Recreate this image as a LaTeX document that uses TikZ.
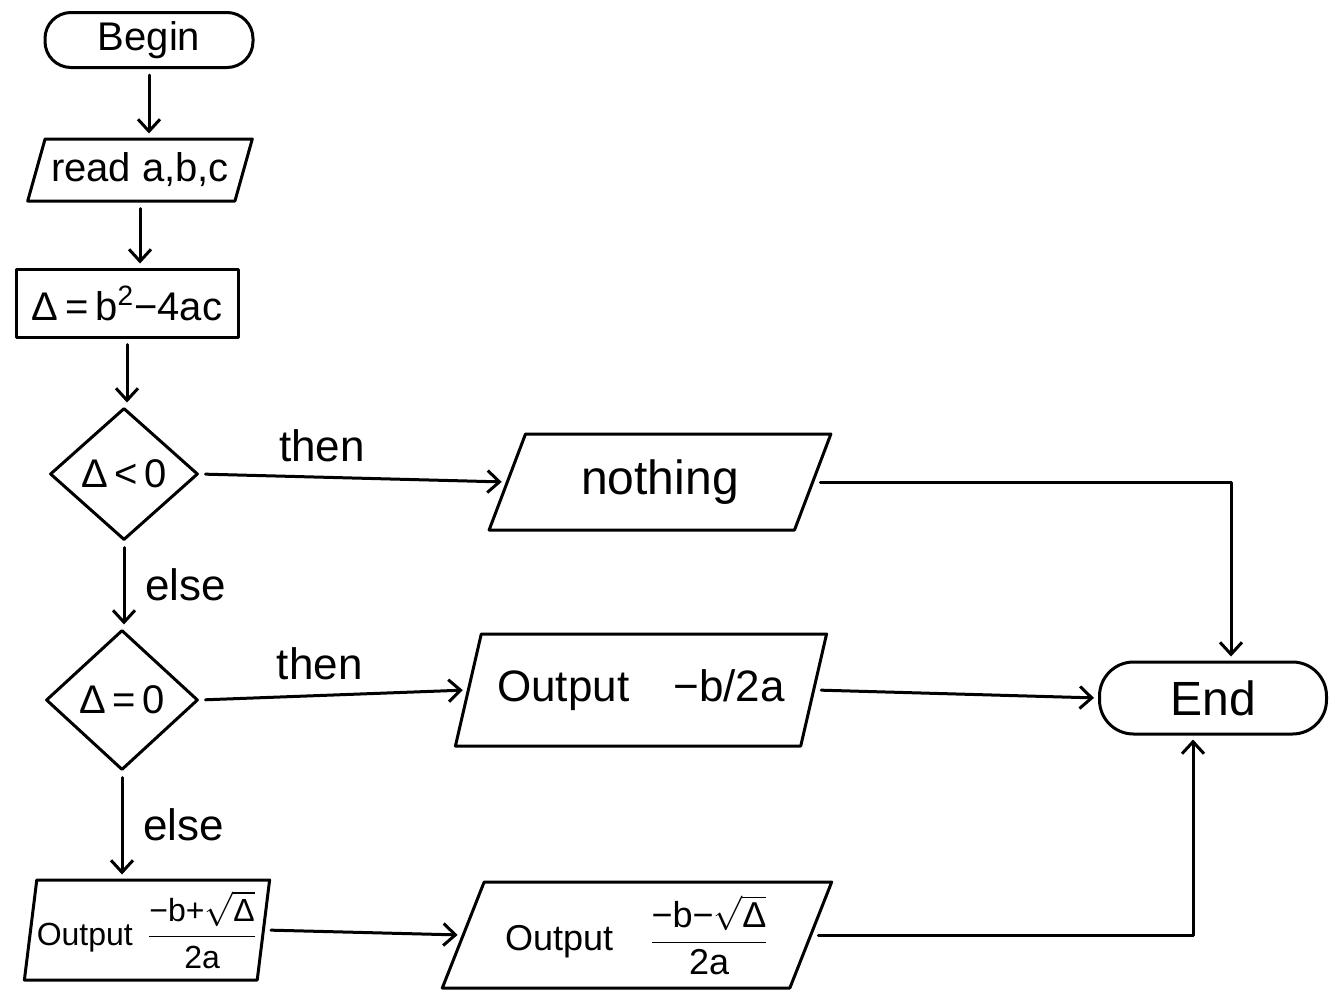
\documentclass[tikz,border=0pt]{standalone}
\usepackage{fontspec}
\setmainfont{Liberation Sans}
\usetikzlibrary{shapes.geometric,arrows.meta}
\begin{document}
\begin{tikzpicture}[x=0.5pt,y=-0.5pt,
  line width=1.5pt, line join=round, line cap=round,
  every node/.style={font=\fontsize{20}{24}\selectfont, inner sep=2pt},
  terminal/.style={draw, rectangle, rounded corners=#1, align=center},
  iobox/.style={draw, trapezium, trapezium stretches=true,
    trapezium left angle=#1, trapezium right angle={180-#1}},
  procbox/.style={draw, rectangle},
  decision/.style={draw, diamond},
  flow/.style={-{Straight Barb[length=6pt,width=11pt,line width=1.5pt]},
    shorten <=3pt, shorten >=2pt},
  lbl/.style={font=\fontsize{22}{26}\selectfont}]

\useasboundingbox (0,0) rectangle (1333,1002);

% shapes
\node[terminal=13pt, minimum width=104pt, minimum height=27.5pt] (begin) at (149,40) {Begin};
\node[iobox=68, minimum width=112.5pt, minimum height=31pt] (read) at (140,170) {read a,b,c};
\node[procbox, minimum width=111pt, minimum height=34pt] (disc) at (127,303) {Δ\,=\,b\textsuperscript{2}−4ac};
\node[decision, minimum width=74pt, minimum height=66pt, inner sep=0pt] (neg) at (124,474) {Δ\,<\,0};
\node[iobox=67, minimum width=171pt, minimum height=48pt, font=\fontsize{24}{28}\selectfont] (none) at (660,482) {nothing};
\node[decision, minimum width=76pt, minimum height=70pt, inner sep=0pt] (zero) at (122,700) {Δ\,=\,0};
\node[iobox=64, minimum width=186pt, minimum height=56pt, font=\fontsize{22}{26}\selectfont] (single) at (641,690) {Output\quad −b/2a};
\node[terminal=17pt, minimum width=113.5pt, minimum height=36pt, font=\fontsize{24}{28}\selectfont] (end) at (1213,698) {End};
\node[iobox=81, minimum width=122pt, minimum height=50pt, inner sep=0pt, font=\fontsize{16}{19}\selectfont] (plus) at (147,930)
  {Output\, $\displaystyle\frac{\textrm{−b+}\sqrt{\textrm{Δ}}}{\textrm{2a}}$};
\node[iobox=67, minimum width=195pt, minimum height=53pt, font=\fontsize{18}{22}\selectfont] (minus) at (637,935)
  {Output\quad $\displaystyle\frac{\textrm{−b−}\sqrt{\textrm{Δ}}}{\textrm{2a}}$};

% connectors
\draw[flow] (begin.south) -- (begin.south |- read.north);
\draw[flow] (read.south) -- (read.south |- disc.north);
\draw[flow] (disc.south) -- (disc.south |- neg.north);
\draw[flow] (neg.east) -- (none.west) node[lbl, pos=0.4, above=5pt] {then};
\draw[flow] (none.east) -| ([xshift=9pt]end.north);
\draw[flow] (neg.south) -- (neg.south |- zero.north) node[lbl, midway, right=8pt] {else};
\draw[flow] (zero.east) -- (single.west) node[lbl, pos=0.45, above=5pt] {then};
\draw[flow] (single.east) -- (end.west);
\draw[flow] (zero.south) -- (zero.south |- plus.north) node[lbl, midway, right=8pt] {else};
\draw[flow] (plus.east) -- (minus.west);
\draw[flow] (minus.east) -| ([xshift=-10pt]end.south);
\end{tikzpicture}
\end{document}
